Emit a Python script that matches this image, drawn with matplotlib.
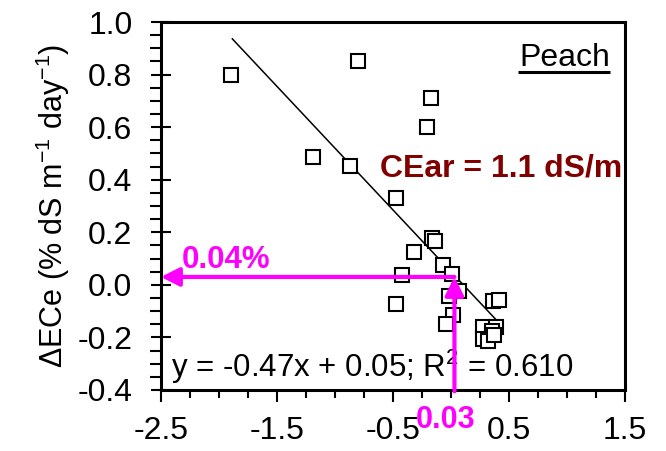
import numpy as np
import matplotlib
matplotlib.use('Agg')
import matplotlib.pyplot as plt
from matplotlib.ticker import MultipleLocator

plt.rcParams['font.family'] = ['Liberation Sans', 'DejaVu Sans']
plt.rcParams['axes.unicode_minus'] = False
plt.rcParams['mathtext.fontset'] = 'custom'
plt.rcParams['mathtext.rm'] = 'Liberation Sans'
plt.rcParams['mathtext.it'] = 'Liberation Sans'
plt.rcParams['mathtext.bf'] = 'Liberation Sans:bold'

# data
x_vals = [-1.90, -0.80, -0.17, -0.21, -1.19, -0.87, -0.47, -0.16, -0.14, -0.32,
          -0.07, 0.01, -0.42, 0.07, -0.02, -0.47, 0.02, -0.045, 0.36, 0.41,
          0.28, 0.39, 0.35, 0.28, 0.32, 0.37]
y_vals = [0.80, 0.85, 0.71, 0.60, 0.485, 0.453, 0.33, 0.18, 0.165, 0.125,
          0.075, 0.04, 0.037, -0.025, -0.042, -0.074, -0.113, -0.15, -0.06, -0.058,
          -0.16, -0.16, -0.175, -0.205, -0.215, -0.19]

slope = -0.47
intercept = 0.05
fit_x = [-1.885, 0.42]

cross_x = 0.03
cross_y = 0.03

xlim = (-2.5, 1.5)
ylim = (-0.4, 1.0)

fig = plt.figure(figsize=(6.66, 4.51), dpi=100)
ax = fig.add_axes([0.2417, 0.1353, 0.6967, 0.8159])

ax.plot(x_vals, y_vals, 's', mfc='white', mec='black', mew=1.5, ms=10, zorder=3)
fx = np.array(fit_x)
ax.plot(fx, slope * fx + intercept, color='black', lw=1.1, zorder=2)

# magenta read-off arrows
arrow_kw = dict(arrowstyle='-|>,head_length=0.55,head_width=0.28', color='#ff00ff',
                lw=3, shrinkA=0, shrinkB=0, mutation_scale=20)
ax.annotate('', xy=(xlim[0], cross_y), xytext=(cross_x, cross_y),
            arrowprops=arrow_kw, zorder=5, annotation_clip=False)
ax.annotate('', xy=(cross_x, cross_y), xytext=(cross_x, ylim[0] - 0.005),
            arrowprops=arrow_kw, zorder=5, annotation_clip=False)

ax.text(-2.32, 0.064, '0.04%', color='#ff00ff', fontsize=22.5, fontweight='bold',
        ha='left', va='baseline')
ax.text(-0.043, -0.545, '0.03', color='#ff00ff', fontsize=22, fontweight='bold',
        ha='center', va='baseline', clip_on=False)

ax.text(-0.612, 0.411, 'CEar = 1.1 dS/m', color='#800000', fontsize=23,
        fontweight='bold', ha='left', va='baseline')
ax.text(-2.416, -0.352, 'y = -0.47x + 0.05; R$^2$ = 0.610', fontsize=22.5,
        ha='left', va='baseline', zorder=4)

ax.text(0.968, 0.880, 'Peach', transform=ax.transAxes, fontsize=23,
        ha='right', va='baseline')
ax.plot([0.769, 0.968], [0.865, 0.865], transform=ax.transAxes, color='black',
        lw=2.2, solid_capstyle='butt', clip_on=False)

ax.set_xlim(*xlim)
ax.set_ylim(*ylim)
ax.set_xticks([-2.5, -1.5, -0.5, 0.5, 1.5])
ax.set_yticks(np.arange(-0.4, 1.01, 0.2))
ax.xaxis.set_minor_locator(MultipleLocator(0.25))
ax.yaxis.set_minor_locator(MultipleLocator(0.05))
ax.yaxis.set_major_formatter(matplotlib.ticker.FormatStrFormatter('%.1f'))

ax.tick_params(axis='x', which='major', direction='out', length=8.6, width=1.5,
               labelsize=23, pad=10)
ax.tick_params(axis='x', which='minor', direction='out', length=6, width=1.5)
ax.tick_params(axis='y', which='major', direction='inout', length=15, width=1.5,
               labelsize=23, pad=13)
ax.tick_params(axis='y', which='minor', direction='out', length=8, width=1.5)
for s in ax.spines.values():
    s.set_linewidth(2.2)

ax.set_ylabel('ΔECe (% dS m$^{-1}$ day$^{-1}$)', fontsize=22, labelpad=4)

fig.savefig('out.png', dpi=100)
